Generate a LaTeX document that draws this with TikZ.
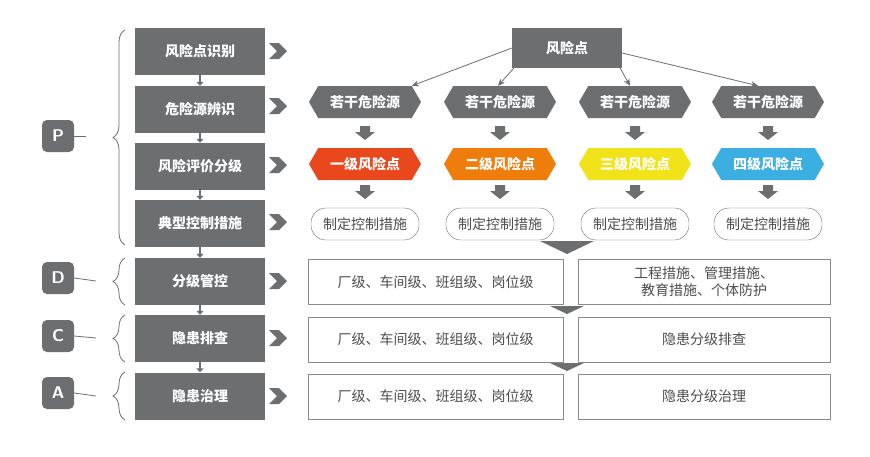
\documentclass[tikz,border=0pt]{standalone}
\usepackage{fontspec}
\setmainfont{Noto Sans CJK SC}
\usetikzlibrary{shapes.geometric,shapes.misc,shapes.symbols,arrows.meta,decorations.pathreplacing}
\definecolor{dg}{HTML}{6D6E70}
\definecolor{c1}{HTML}{E8481C}
\definecolor{c2}{HTML}{EF7D0B}
\definecolor{c3}{HTML}{F0E31A}
\definecolor{c4}{HTML}{3BAEE2}
\tikzset{
 lbox/.style={fill=dg,text=white,minimum width=130pt,minimum height=47pt,font=\bfseries\fontsize{14}{14}\selectfont,inner sep=0},
 letter/.style={fill=dg,text=white,rounded corners=5pt,minimum size=32pt,font=\sffamily\bfseries\fontsize{17}{17}\selectfont,inner sep=0},
 hexa/.style={signal,signal to=east and west,signal pointer angle=120,fill=#1,text=white,minimum width=112pt,minimum height=32pt,font=\bfseries\fontsize{14}{14}\selectfont,inner sep=0},
 ctrl/.style={draw=dg,rounded corners=15pt,minimum width=108pt,minimum height=32pt,font=\fontsize{14}{14}\selectfont,inner sep=0,text=dg!70!black},
 wbox/.style={draw=dg!80,minimum height=45pt,font=\fontsize{14}{17}\selectfont,inner sep=0,text=dg!70!black,align=center},
 brc/.style={draw=dg,thick,decorate,decoration={brace,amplitude=12pt}},
 thin/.style={draw=dg,thick,-{Stealth[length=7pt,width=6pt]}},
 tiny/.style={draw=dg,line width=1.5pt,-{Triangle[length=4pt,width=7pt]}},
}
\newcommand{\chevr}[2]{\fill[dg] (#1-8,#2-8) -- (#1+2,#2-8) -- (#1+10,#2) -- (#1+2,#2+8) -- (#1-8,#2+8) -- (#1,#2) -- cycle;}
\newcommand{\dblock}[3]{\fill[dg] (#1-#3,#2) -- (#1+#3,#2) -- (#1+#3,#2+6) -- (#1+2*#3,#2+6) -- (#1,#2+14) -- (#1-2*#3,#2+6) -- (#1-#3,#2+6) -- cycle;}
\begin{document}
\begin{tikzpicture}[x=1pt,y=-1pt]
\useasboundingbox[fill=white] (0,0) rectangle (870,456);
% left column
\node[lbox] (l1) at (200,51.5) {风险点识别};
\node[lbox] (l2) at (200,109.5) {危险源辨识};
\node[lbox] (l3) at (200,166.5) {风险评价分级};
\node[lbox] (l4) at (200,223.5) {典型控制措施};
\node[lbox] (l5) at (200,281.5) {分级管控};
\node[lbox] (l6) at (200,338.5) {隐患排查};
\node[lbox] (l7) at (200,396) {隐患治理};
\foreach \a/\b in {l1/l2,l2/l3,l3/l4,l4/l5,l5/l6,l6/l7}
  \draw[tiny] (\a.south) -- (\b.north);
\foreach \y in {51,106,165,222,281,338,396} {\chevr{277}{\y}}
% letters
\node[letter] (P) at (58,136) {P};
\node[letter] (D) at (58,278) {D};
\node[letter] (C) at (58,336) {C};
\node[letter] (A) at (58,393) {A};
\draw[brc] (125,245) -- (125,30);
\draw[brc] (125,305) -- (125,258);
\draw[brc] (125,362) -- (125,315);
\draw[brc] (125,420) -- (125,372);
\draw[dg,thick] (P.east) -- (86,136);
\draw[dg,thick] (D.east) -- (96,281);
\draw[dg,thick] (C.east) -- (96,338);
\draw[dg,thick] (A.east) -- (96,396);
% top
\node[fill=dg,text=white,minimum width=110pt,minimum height=40pt,font=\bfseries\fontsize{14}{14}\selectfont] (top) at (567,48) {风险点};
\foreach \x/\c/\t [count=\i] in {365/c1/一级风险点,500/c2/二级风险点,635/c3/三级风险点,768/c4/四级风险点} {
  \node[hexa=dg] (h\i) at (\x,102) {若干危险源};
  \node[hexa=\c] (r\i) at (\x,164) {\t};
  \node[ctrl] (k\i) at (\x,224) {制定控制措施};
  \dblock{\x}{126}{5}
  \dblock{\x}{185}{5}
}
\draw[thin] (top.west) -- (h1.north east);
\draw[thin] ([xshift=2pt]top.south west) -- ([xshift=-2pt]h2.north);
\draw[thin] ([xshift=-2pt]top.south east) -- ([xshift=-5pt]h3.north);
\draw[thin] ([yshift=-5pt]top.east) -- ([xshift=-10pt]h4.north);
% bottom
\fill[dg] (540,241) -- (594,241) -- (567,254) -- cycle;
\fill[dg] (550,306) -- (584,306) -- (567,314) -- cycle;
\fill[dg] (550,363) -- (584,363) -- (567,371) -- cycle;
\foreach \y/\t [count=\i] in {282/{工程措施、管理措施、\\教育措施、个体防护},339.5/隐患分级排查,396.5/隐患分级治理} {
  \node[wbox,minimum width=255pt] (b\i) at (435.5,\y) {厂级、车间级、班组级、岗位级};
  \node[wbox,minimum width=252pt] (w\i) at (704,\y) {\t};
}
\end{tikzpicture}
\end{document}
